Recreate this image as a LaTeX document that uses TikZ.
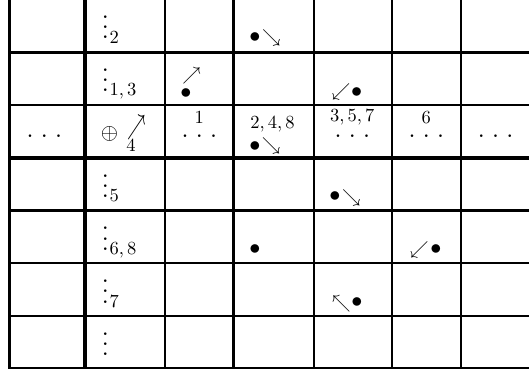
\documentclass[tikz,border=0pt]{standalone}
\usepackage{amsmath, amssymb}
\usepackage{graphicx}
\usepackage{tikz}
\usetikzlibrary{positioning}

\newcommand{\pdot}{\scalebox{1.35}{.}}
\newcommand{\vdts}{\vbox{\baselineskip5.5pt\lineskiplimit-10pt\hbox{\pdot}\hbox{\pdot}\hbox{\pdot}}}
\newcommand{\hdts}{\makebox[7.7pt]{\pdot}\makebox[7.7pt]{\pdot}\makebox[7.7pt]{\pdot}}

\begin{document}
\begin{tikzpicture}[
    x=0.54pt, y=-0.54pt,
    gline/.style={line width=1.1pt},
    gthick/.style={line width=1.7pt},
    vlab/.style={inner sep=0pt, anchor=base west},
    toplab/.style={inner sep=0pt, anchor=base},
    sym/.style={inner sep=0pt}
  ]
    \useasboundingbox (0,0) rectangle (529,375);
    % grid
    \draw[gline] (9.5,0) -- (9.5,368) -- (529,368);
    \foreach \x in {165,233.5,314,392,461} {
      \draw[gline] (\x,0) -- (\x,368);
    }
    \draw[gthick] (85,0) -- (85,368);
    \foreach \y in {52.5,105,210.5,263,316} {
      \draw[gline] (9.5,\y) -- (529,\y);
    }
    \draw[gthick] (9.5,158) -- (529,158);
    % vertical dots column
    \foreach \i/\y/\t in {0/39/2, 1/91.8/{1,3}, 3/197.4/5, 4/250.2/{6,8}, 5/303/7} {
      \node[vlab] (v\i) at (101.5,\y) {\vdts\kern0.4pt\raisebox{-2.2pt}{$\t$}};
    }
    \node[vlab] (v6) at (101.5,355.8) {\vdts};
    % middle row
    \node[sym] (p) at (109.5,134) {\scalebox{1.2}{$\oplus$}};
    \node[vlab] (p4) at (126,152) {$4$};
    \node[sym] (pa) at (136.5,128) {\scalebox{1}[1.5]{$\nearrow$}};
    \foreach \i/\x in {0/44.3,2/199.3,4/352.3,5/426.3,6/495.7} {
      \node[sym] (h\i) at (\x,135.8) {\hdts};
    }
    \node[toplab] (t2) at (199.3,123.3) {$1$};
    \node[toplab] (t3) at (272.5,128.3) {$2,4,8$};
    \node[toplab] (t4) at (352.3,121.7) {$3,5,7$};
    \node[toplab] (t5) at (426.3,124) {$6$};
    % bullets
    \foreach \i/\x/\y in {1/255/37.3, 2/186/94, 3/356.7/92.3, 4/255/147,
                          5/335/197, 6/255/250, 7/436/250, 8/357/303} {
      \node[sym] (b\i) at (\x,\y) {\scalebox{1.2}{$\bullet$}};
    }
    % moves
    \foreach \i/\x/\y/\s in {1/271.5/37.5/\searrow, 2/191.7/75.5/\nearrow,
                             3/341.2/92.2/\swarrow, 4/271.2/146/\searrow,
                             5/351.5/197.5/\searrow, 7/419.5/250/\swarrow,
                             8/341.5/304/\nwarrow} {
      \node[sym] (a\i) at (\x,\y) {$\s$};
    }
\end{tikzpicture}
\end{document}
